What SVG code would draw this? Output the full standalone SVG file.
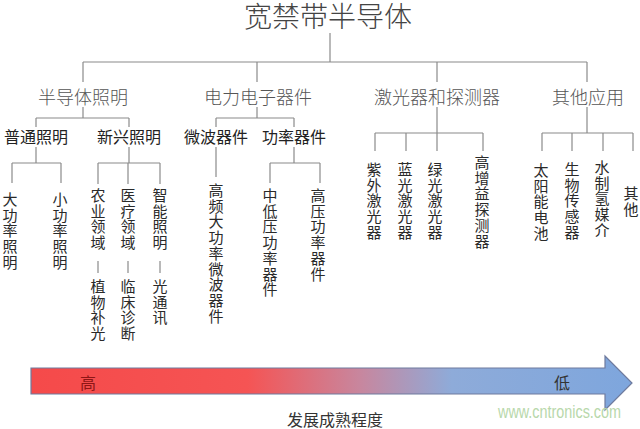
<svg xmlns="http://www.w3.org/2000/svg" width="640" height="429" viewBox="0 0 640 429">
<defs>
<style>
.t{font-family:"Noto Sans CJK SC","Noto Sans",sans-serif;text-anchor:middle}
.title{font-size:28px;fill:#444;font-weight:300}
.l1{font-size:18px;fill:#555;font-weight:300}
.l2{font-size:16px;fill:#222}
.l3{font-size:15px;fill:#2a2a2a}
.c line{stroke:#8a8a8a;stroke-width:1.2;fill:none}
</style>
<linearGradient id="g" x1="31" y1="0" x2="632" y2="0" gradientUnits="userSpaceOnUse">
<stop offset="0" stop-color="#f54a4a"/>
<stop offset="0.36" stop-color="#f55454"/>
<stop offset="0.55" stop-color="#c7879f"/>
<stop offset="0.7" stop-color="#8eabd9"/>
<stop offset="1" stop-color="#7ea6dd"/>
</linearGradient>
</defs>
<rect width="640" height="429" fill="#fff"/>
<g class="c" id="connectors">
<line x1="330" y1="33" x2="330" y2="62"/>
<line x1="83" y1="62" x2="587" y2="62"/>
<line x1="83" y1="62" x2="83" y2="82"/>
<line x1="257" y1="62" x2="257" y2="82"/>
<line x1="437" y1="62" x2="437" y2="82"/>
<line x1="587" y1="62" x2="587" y2="82"/>
<line x1="83" y1="107" x2="83" y2="118"/>
<line x1="36" y1="118" x2="129" y2="118"/>
<line x1="36" y1="118" x2="36" y2="127"/>
<line x1="129" y1="118" x2="129" y2="127"/>
<line x1="257" y1="107" x2="257" y2="118"/>
<line x1="216" y1="118" x2="294" y2="118"/>
<line x1="216" y1="118" x2="216" y2="127"/>
<line x1="294" y1="118" x2="294" y2="127"/>
<line x1="36" y1="147" x2="36" y2="163"/>
<line x1="12" y1="163" x2="61" y2="163"/>
<line x1="12" y1="163" x2="12" y2="183"/>
<line x1="61" y1="163" x2="61" y2="183"/>
<line x1="129" y1="147" x2="129" y2="163"/>
<line x1="98" y1="163" x2="160" y2="163"/>
<line x1="98" y1="163" x2="98" y2="184"/>
<line x1="128" y1="163" x2="128" y2="184"/>
<line x1="160" y1="163" x2="160" y2="184"/>
<line x1="216" y1="147" x2="216" y2="177"/>
<line x1="294" y1="147" x2="294" y2="163"/>
<line x1="270" y1="163" x2="320" y2="163"/>
<line x1="270" y1="163" x2="270" y2="183"/>
<line x1="320" y1="163" x2="320" y2="183"/>
<line x1="437" y1="107" x2="437" y2="133"/>
<line x1="375" y1="133" x2="483" y2="133"/>
<line x1="375" y1="133" x2="375" y2="151"/>
<line x1="406" y1="133" x2="406" y2="151"/>
<line x1="437" y1="133" x2="437" y2="151"/>
<line x1="483" y1="133" x2="483" y2="151"/>
<line x1="587" y1="107" x2="587" y2="133"/>
<line x1="542" y1="133" x2="633" y2="133"/>
<line x1="542" y1="133" x2="542" y2="151"/>
<line x1="572" y1="133" x2="572" y2="151"/>
<line x1="603" y1="133" x2="603" y2="151"/>
<line x1="633" y1="133" x2="633" y2="151"/>
<line x1="98" y1="261" x2="98" y2="273"/>
<line x1="128" y1="261" x2="128" y2="273"/>
<line x1="160" y1="261" x2="160" y2="273"/>
</g>
<g id="root"><text class="t title" x="328" y="27">宽禁带半导体</text></g>
<g id="n-lighting"><text class="t l1" x="83" y="104">半导体照明</text></g>
<g id="n-power"><text class="t l1" x="258" y="104">电力电子器件</text></g>
<g id="n-laser"><text class="t l1" x="437" y="104">激光器和探测器</text></g>
<g id="n-other"><text class="t l1" x="588" y="104">其他应用</text></g>
<g id="n-general"><text class="t l2" x="36" y="143">普通照明</text></g>
<g id="n-emerging"><text class="t l2" x="129" y="143">新兴照明</text></g>
<g id="n-microwave"><text class="t l2" x="216" y="143">微波器件</text></g>
<g id="n-powerdev"><text class="t l2" x="294" y="143">功率器件</text></g>
<g id="n-high"><text class="t l3" x="10" y="205"><tspan x="10">大</tspan><tspan x="10" dy="15.7">功</tspan><tspan x="10" dy="15.7">率</tspan><tspan x="10" dy="15.7">照</tspan><tspan x="10" dy="15.7">明</tspan></text></g>
<g id="n-low"><text class="t l3" x="60" y="205"><tspan x="60">小</tspan><tspan x="60" dy="15.7">功</tspan><tspan x="60" dy="15.7">率</tspan><tspan x="60" dy="15.7">照</tspan><tspan x="60" dy="15.7">明</tspan></text></g>
<g id="n-agri"><text class="t l3" x="98" y="201"><tspan x="98">农</tspan><tspan x="98" dy="15.7">业</tspan><tspan x="98" dy="15.7">领</tspan><tspan x="98" dy="15.7">域</tspan></text></g>
<g id="n-med"><text class="t l3" x="128" y="201"><tspan x="128">医</tspan><tspan x="128" dy="15.7">疗</tspan><tspan x="128" dy="15.7">领</tspan><tspan x="128" dy="15.7">域</tspan></text></g>
<g id="n-smart"><text class="t l3" x="160" y="201"><tspan x="160">智</tspan><tspan x="160" dy="15.7">能</tspan><tspan x="160" dy="15.7">照</tspan><tspan x="160" dy="15.7">明</tspan></text></g>
<g id="n-plant"><text class="t l3" x="98" y="292"><tspan x="98">植</tspan><tspan x="98" dy="15.7">物</tspan><tspan x="98" dy="15.7">补</tspan><tspan x="98" dy="15.7">光</tspan></text></g>
<g id="n-clinic"><text class="t l3" x="128" y="292"><tspan x="128">临</tspan><tspan x="128" dy="15.7">床</tspan><tspan x="128" dy="15.7">诊</tspan><tspan x="128" dy="15.7">断</tspan></text></g>
<g id="n-lifi"><text class="t l3" x="160" y="292"><tspan x="160">光</tspan><tspan x="160" dy="15.7">通</tspan><tspan x="160" dy="15.7">讯</tspan></text></g>
<g id="n-hfmw"><text class="t l3" x="216" y="196"><tspan x="216">高</tspan><tspan x="216" dy="15.7">频</tspan><tspan x="216" dy="15.7">大</tspan><tspan x="216" dy="15.7">功</tspan><tspan x="216" dy="15.7">率</tspan><tspan x="216" dy="15.7">微</tspan><tspan x="216" dy="15.7">波</tspan><tspan x="216" dy="15.7">器</tspan><tspan x="216" dy="15.7">件</tspan></text></g>
<g id="n-mlv"><text class="t l3" x="270" y="201"><tspan x="270">中</tspan><tspan x="270" dy="15.7">低</tspan><tspan x="270" dy="15.7">压</tspan><tspan x="270" dy="15.7">功</tspan><tspan x="270" dy="15.7">率</tspan><tspan x="270" dy="15.7">器</tspan><tspan x="270" dy="15.7">件</tspan></text></g>
<g id="n-hv"><text class="t l3" x="318" y="201"><tspan x="318">高</tspan><tspan x="318" dy="15.7">压</tspan><tspan x="318" dy="15.7">功</tspan><tspan x="318" dy="15.7">率</tspan><tspan x="318" dy="15.7">器</tspan><tspan x="318" dy="15.7">件</tspan></text></g>
<g id="n-uv"><text class="t l3" x="374" y="175"><tspan x="374">紫</tspan><tspan x="374" dy="15.7">外</tspan><tspan x="374" dy="15.7">激</tspan><tspan x="374" dy="15.7">光</tspan><tspan x="374" dy="15.7">器</tspan></text></g>
<g id="n-blue"><text class="t l3" x="405" y="175"><tspan x="405">蓝</tspan><tspan x="405" dy="15.7">光</tspan><tspan x="405" dy="15.7">激</tspan><tspan x="405" dy="15.7">光</tspan><tspan x="405" dy="15.7">器</tspan></text></g>
<g id="n-green"><text class="t l3" x="435" y="175"><tspan x="435">绿</tspan><tspan x="435" dy="15.7">光</tspan><tspan x="435" dy="15.7">激</tspan><tspan x="435" dy="15.7">光</tspan><tspan x="435" dy="15.7">器</tspan></text></g>
<g id="n-det"><text class="t l3" x="482" y="168"><tspan x="482">高</tspan><tspan x="482" dy="15.7">增</tspan><tspan x="482" dy="15.7">益</tspan><tspan x="482" dy="15.7">探</tspan><tspan x="482" dy="15.7">测</tspan><tspan x="482" dy="15.7">器</tspan></text></g>
<g id="n-solar"><text class="t l3" x="541" y="176"><tspan x="541">太</tspan><tspan x="541" dy="15.7">阳</tspan><tspan x="541" dy="15.7">能</tspan><tspan x="541" dy="15.7">电</tspan><tspan x="541" dy="15.7">池</tspan></text></g>
<g id="n-bio"><text class="t l3" x="572" y="175"><tspan x="572">生</tspan><tspan x="572" dy="15.7">物</tspan><tspan x="572" dy="15.7">传</tspan><tspan x="572" dy="15.7">感</tspan><tspan x="572" dy="15.7">器</tspan></text></g>
<g id="n-h2"><text class="t l3" x="602" y="173"><tspan x="602">水</tspan><tspan x="602" dy="15.7">制</tspan><tspan x="602" dy="15.7">氢</tspan><tspan x="602" dy="15.7">媒</tspan><tspan x="602" dy="15.7">介</tspan></text></g>
<g id="n-misc"><text class="t l3" x="631" y="199"><tspan x="631">其</tspan><tspan x="631" dy="15.7">他</tspan></text></g>
<g id="maturity-arrow">
<path d="M31 368 H605 V356 L632 383 L605 410 V394 H31 Z" fill="url(#g)" stroke="#6f7b9e" stroke-width="1.2" stroke-linejoin="miter"/>
<text class="t" x="88" y="389" font-size="16" fill="#8e1616">高</text>
<text class="t" x="562" y="389" font-size="16" fill="#333">低</text>
</g>
<text class="t" x="335" y="426" font-size="16" fill="#333">发展成熟程度</text>
<text x="498" y="418" font-family="Liberation Sans, Arial, sans-serif" font-size="18" fill="#b8d8ab" textLength="123" lengthAdjust="spacingAndGlyphs">www.cntronics.com</text>
</svg>
